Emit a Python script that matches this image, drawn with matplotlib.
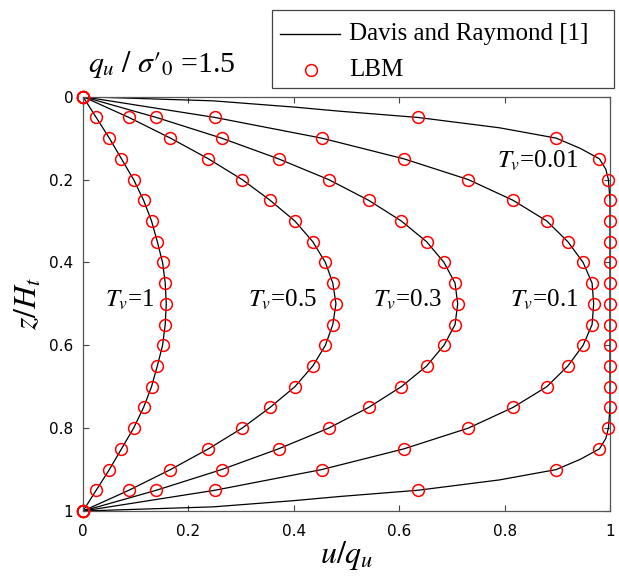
import numpy as np
import matplotlib
matplotlib.use("Agg")
import matplotlib.pyplot as plt
from matplotlib.lines import Line2D
from matplotlib.patches import Rectangle

plt.rcParams['mathtext.fontset'] = 'stix'
plt.rcParams['font.family'] = ['Liberation Serif', 'DejaVu Serif']

# ---- data ----
z_lbm = [0.00, 0.05, 0.10, 0.15, 0.20, 0.25, 0.30, 0.35, 0.40, 0.45, 0.50,
         0.55, 0.60, 0.65, 0.70, 0.75, 0.80, 0.85, 0.90, 0.95, 1.00]

u_tv1 = [0.000, 0.025, 0.050, 0.073, 0.096, 0.115, 0.130, 0.141, 0.151, 0.156, 0.158,
         0.156, 0.151, 0.141, 0.130, 0.115, 0.096, 0.073, 0.050, 0.025, 0.000]
u_tv05 = [0.000, 0.087, 0.166, 0.238, 0.302, 0.355, 0.402, 0.436, 0.460, 0.474, 0.480,
          0.474, 0.460, 0.436, 0.402, 0.355, 0.302, 0.238, 0.166, 0.087, 0.000]
u_tv03 = [0.000, 0.139, 0.263, 0.371, 0.466, 0.542, 0.604, 0.652, 0.685, 0.706, 0.711,
          0.706, 0.685, 0.652, 0.604, 0.542, 0.466, 0.371, 0.263, 0.139, 0.000]
u_tv01 = [0.000, 0.250, 0.453, 0.609, 0.731, 0.816, 0.880, 0.920, 0.949, 0.966, 0.969,
          0.966, 0.949, 0.920, 0.880, 0.816, 0.731, 0.609, 0.453, 0.250, 0.000]
u_tv001 = [0.000, 0.635, 0.898, 0.980, 0.997, 1.000, 1.000, 1.000, 1.000, 1.000, 1.000,
           1.000, 1.000, 1.000, 1.000, 1.000, 0.997, 0.980, 0.898, 0.635, 0.000]

# Davis and Raymond curve for Tv = 0.01, read more densely near the drained ends
z_dr001 = [0.000, 0.010, 0.025, 0.035, 0.050, 0.075, 0.100, 0.125, 0.150, 0.175, 0.200,
           0.250, 0.500, 0.750, 0.800, 0.825, 0.850, 0.875, 0.900, 0.925, 0.950,
           0.965, 0.975, 0.990, 1.000]
u_dr001 = [0.000, 0.247, 0.400, 0.487, 0.635, 0.790, 0.898, 0.944, 0.980, 0.992, 0.997,
           1.000, 1.000, 1.000, 0.997, 0.992, 0.980, 0.944, 0.898, 0.790, 0.635,
           0.487, 0.400, 0.247, 0.000]

lbm_series = [u_tv1, u_tv05, u_tv03, u_tv01, u_tv001]
tv_labels = ['1', '0.5', '0.3', '0.1', '0.01']
label_pos = [(0.042, 0.49), (0.314, 0.49), (0.551, 0.49), (0.810, 0.49), (0.785, 0.155)]

x_ticks = [0, 0.2, 0.4, 0.6, 0.8, 1]
y_ticks = [0, 0.2, 0.4, 0.6, 0.8, 1]

W, H = 619, 576
def fx(px):
    return px / W
def fy(py):
    return 1 - py / H

# ---- figure ----
fig = plt.figure(figsize=(6.19, 5.76), dpi=100)
ax = fig.add_axes([fx(83), fy(511), 527 / W, 414.3 / H])

# Davis and Raymond curves
for u in lbm_series[:-1]:
    ax.plot(u, z_lbm, color='black', lw=0.9, zorder=2)
ax.plot(u_dr001, z_dr001, color='black', lw=0.9, zorder=2)

# LBM markers
for u in lbm_series:
    ax.plot(u, z_lbm, linestyle='none', marker='o', markersize=8.5,
            markerfacecolor='none', markeredgecolor='red', markeredgewidth=1.1,
            zorder=3, clip_on=False)

for lab, (xp, yp) in zip(tv_labels, label_pos):
    ax.text(xp, yp, r'$T_v$' + '=' + lab, fontsize=18, ha='left', va='center')

ax.set_xlim(0, 1)
ax.set_ylim(1, 0)
ax.set_xticks(x_ticks)
ax.set_yticks(y_ticks)
ax.set_xticklabels(['%g' % v for v in x_ticks], fontfamily='DejaVu Sans', fontsize=11)
ax.set_yticklabels(['%g' % v for v in y_ticks], fontfamily='DejaVu Sans', fontsize=11)
ax.tick_params(direction='in', top=True, right=True, length=4, width=0.8,
               color='#444444')
ax.tick_params(axis='x', pad=9)
ax.tick_params(axis='y', pad=7)
for s in ax.spines.values():
    s.set_color('#555555')
    s.set_linewidth(0.9)

ax.set_xlabel(r'$u/q_u$', fontsize=23, labelpad=0)
ax.set_ylabel(r'$z/H_t$', fontsize=23, labelpad=4)

fig.text(fx(88), fy(64), r"$q_u\ /\ \sigma\prime_{0}$" + ' =1.5', fontsize=21.5,
         ha='left', va='center')

# legend drawn as a box with entries
fig.add_artist(Rectangle((fx(272), fy(88)), (614 - 272) / W, (88 - 10) / H,
                         transform=fig.transFigure, facecolor='white',
                         edgecolor='#444444', linewidth=0.9))
fig.add_artist(Line2D([fx(280), fx(340)], [fy(34), fy(34)], color='black', lw=1.0,
                      transform=fig.transFigure))
fig.add_artist(Line2D([fx(311)], [fy(70)], linestyle='none', marker='o', markersize=8.5,
                      markerfacecolor='none', markeredgecolor='red', markeredgewidth=1.1,
                      transform=fig.transFigure))
fig.text(fx(349), fy(34), 'Davis and Raymond [1]', fontsize=18, ha='left', va='center')
fig.text(fx(349), fy(70), 'LBM', fontsize=18, ha='left', va='center')

fig.savefig('out.png', dpi=100)
